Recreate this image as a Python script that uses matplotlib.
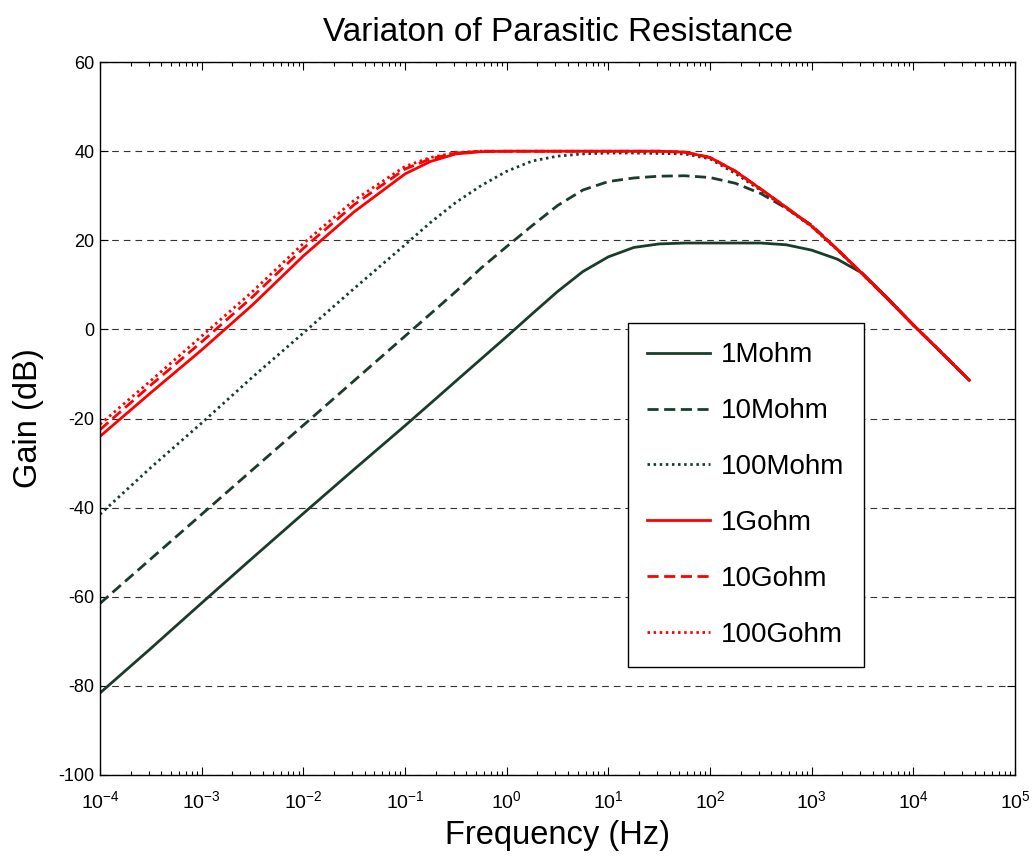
import matplotlib
matplotlib.use("Agg")
import matplotlib.pyplot as plt
from matplotlib.ticker import LogLocator, FixedLocator, FixedFormatter, NullFormatter

plt.rcParams['font.family'] = ['Liberation Sans', 'DejaVu Sans']
plt.rcParams['mathtext.fontset'] = 'custom'
plt.rcParams['mathtext.rm'] = 'Liberation Sans'
plt.rcParams['axes.unicode_minus'] = False

# frequency grid (Hz)
freq = [1e-4, 3.16e-4, 1e-3, 3.16e-3, 1e-2, 3.16e-2, 0.1, 0.178, 0.316, 0.562,
        1, 1.78, 3.16, 5.62, 10, 17.8, 31.6, 56.2, 100, 178, 316, 562,
        1000, 1780, 3160, 5620, 1e4, 1.78e4, 3.55e4]

# gain (dB) for each parasitic resistance
g_1M = [-81.6, -71.6, -61.4, -51.3, -41.3, -31.4, -21.6, -16.6, -11.6, -6.6,
        -1.6, 3.5, 8.5, 13.0, 16.3, 18.4, 19.2, 19.4, 19.4, 19.4, 19.4, 19.0,
        17.8, 15.8, 12.6, 7.0, 1.0, -4.6, -11.4]
g_10M = [-61.5, -51.5, -41.5, -31.5, -21.5, -11.5, -1.5, 3.5, 8.5, 13.8,
         18.6, 23.3, 27.8, 31.3, 33.2, 34.0, 34.4, 34.5, 34.1, 32.8, 30.5, 27.2,
         23.4, 18.0, 12.4, 6.8, 1.0, -4.6, -11.4]
g_100M = [-41.5, -31.0, -21.0, -10.7, -0.8, 9.2, 19.0, 24.0, 28.5, 32.3,
          35.5, 37.8, 38.9, 39.4, 39.6, 39.6, 39.5, 39.4, 38.3, 35.0, 31.2, 27.2,
          23.1, 17.9, 12.4, 6.8, 1.0, -4.6, -11.4]
g_1G = [-24.0, -14.2, -4.6, 5.5, 16.5, 26.4, 34.9, 37.7, 39.4, 39.9,
        40.0, 40.0, 40.0, 40.0, 40.0, 40.0, 40.0, 39.8, 38.6, 35.5, 31.5, 27.4,
        23.2, 18.0, 12.5, 6.8, 1.0, -4.6, -11.4]
g_10G = [-22.5, -12.5, -2.8, 7.3, 18.2, 28.0, 36.0, 38.3, 39.6, 40.0,
         40.0, 40.0, 40.0, 40.0, 40.0, 40.0, 40.0, 39.8, 38.6, 35.5, 31.5, 27.4,
         23.2, 18.0, 12.5, 6.8, 1.0, -4.6, -11.4]
g_100G = [-21.3, -11.5, -1.5, 8.5, 19.3, 29.0, 36.6, 38.6, 39.7, 40.0,
          40.0, 40.0, 40.0, 40.0, 40.0, 40.0, 40.0, 39.8, 38.6, 35.5, 31.5, 27.4,
          23.2, 18.0, 12.5, 6.8, 1.0, -4.6, -11.4]

labels = ["1Mohm", "10Mohm", "100Mohm", "1Gohm", "10Gohm", "100Gohm"]
x_ticks = [1e-4, 1e-3, 1e-2, 1e-1, 1, 10, 100, 1e3, 1e4, 1e5]
x_ticklabels = [r"$\mathregular{10^{-4}}$", r"$\mathregular{10^{-3}}$", r"$\mathregular{10^{-2}}$",
                r"$\mathregular{10^{-1}}$", r"$\mathregular{10^{0}}$", r"$\mathregular{10^{1}}$",
                r"$\mathregular{10^{2}}$", r"$\mathregular{10^{3}}$", r"$\mathregular{10^{4}}$",
                r"$\mathregular{10^{5}}$"]
y_ticks = [-100, -80, -60, -40, -20, 0, 20, 40, 60]

green = "#1a3d2b"
red = "#ff0000"
solid = "-"
dashed = (0, (4, 2))
dotted = (0, (0.9, 1.3))

fig = plt.figure(figsize=(10.33, 8.63), dpi=100)
ax = fig.add_axes([0.0968, 0.102, 0.8858, 0.826])

series = [g_1M, g_10M, g_100M, g_1G, g_10G, g_100G]
colors = [green, green, green, red, red, red]
styles = [solid, dashed, dotted, solid, dashed, dotted]
for g, c, ls, lab in zip(series, colors, styles, labels):
    ax.semilogx(freq, g, color=c, linestyle=ls, linewidth=2.0, label=lab)

ax.set_xlim(1e-4, 1e5)
ax.set_ylim(-100, 60)
ax.xaxis.set_major_locator(FixedLocator(x_ticks))
ax.xaxis.set_major_formatter(FixedFormatter(x_ticklabels))
ax.xaxis.set_minor_locator(LogLocator(base=10, subs=range(2, 10), numticks=20))
ax.xaxis.set_minor_formatter(NullFormatter())
ax.set_yticks(y_ticks)
ax.tick_params(which="both", direction="in", top=True, right=True, labelsize=13, width=0.8)
ax.tick_params(which="major", length=6)
ax.tick_params(which="minor", length=3)
ax.tick_params(axis="x", which="major", pad=11, labelsize=14)
ax.tick_params(axis="y", which="major", pad=4)
ax.grid(axis="y", which="major", color="#333333", linestyle=(0, (6, 4.5)), linewidth=0.8)
for s in ax.spines.values():
    s.set_linewidth(1.0)

ax.set_title("Variaton of Parasitic Resistance", fontsize=24, pad=15)
ax.set_xlabel("Frequency (Hz)", fontsize=23.5, labelpad=6)
ax.set_ylabel("Gain (dB)", fontsize=23.5, labelpad=10)

leg = ax.legend(loc="upper left", bbox_to_anchor=(0.577, 0.634), fontsize=20, frameon=True,
                fancybox=False, edgecolor="black", framealpha=1, borderpad=0.7,
                labelspacing=1.075, handlelength=2.25, handletextpad=0.4, borderaxespad=0)
leg.get_frame().set_linewidth(1.0)

fig.savefig("out.png", dpi=100)
